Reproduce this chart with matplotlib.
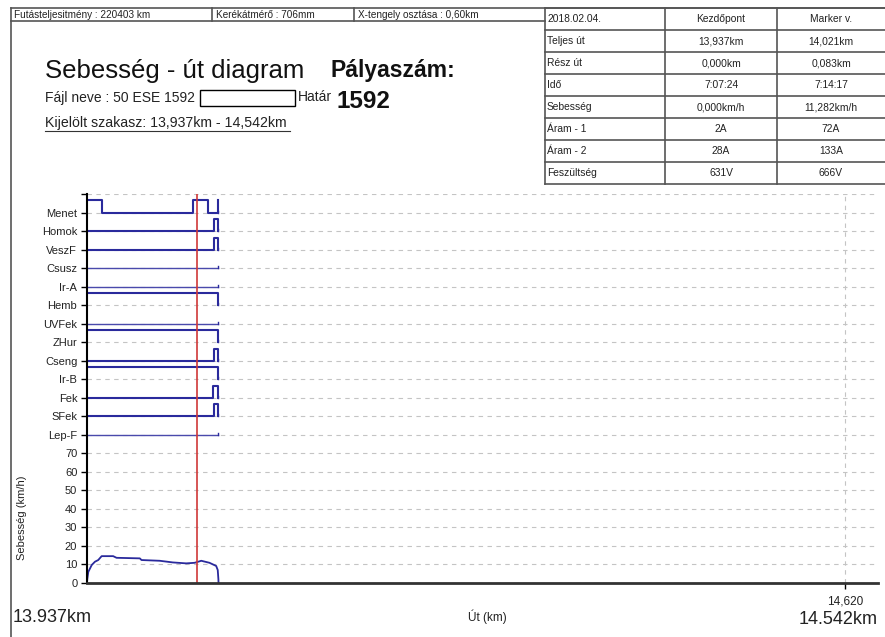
import matplotlib
matplotlib.use("Agg")
import matplotlib.pyplot as plt
from matplotlib.lines import Line2D
from matplotlib.patches import Rectangle

plt.rcParams['font.family'] = ['Liberation Sans', 'DejaVu Sans']

W, H = 885, 637

# header / table content
header_cells = ["Futásteljesitmény : 220403 km", "Kerékátmérő : 706mm", "X-tengely osztása : 0,60km"]
table_rows = ["2018.02.04.", "Teljes út", "Rész út", "Idő", "Sebesség", "Áram - 1", "Áram - 2", "Feszültség"]
table_start = ["Kezdőpont", "13,937km", "0,000km", "7:07:24", "0,000km/h", "2A", "28A", "631V"]
table_marker = ["Marker v.", "14,021km", "0,083km", "7:14:17", "11,282km/h", "72A", "133A", "666V"]

# axis range
x_start = 13.937
x_end = 14.542
marker_km = 14.021
grid_km = 14.517
grid_label = "14,620"

# speed curve
speed_km = [13.9370, 13.9372, 13.9380, 13.9406, 13.9431, 13.9456, 13.9482, 13.9570,
            13.9596, 13.9774, 13.9787, 13.9926, 14.0027, 14.0129, 14.0193, 14.0244,
            14.0307, 14.0358, 14.0370, 14.0375, 14.0376]
speed_kmh = [0.0, 2.0, 6.0, 9.7, 11.5, 12.4, 14.5, 14.5,
             13.6, 13.3, 12.4, 12.0, 11.1, 10.6, 10.9, 12.0,
             10.9, 9.2, 7.0, 2.0, 0.0]
speed_ticks = [0, 10, 20, 30, 40, 50, 60, 70]

# digital channels (base level on the shared y axis, step edges, states)
channels = ['Lep-F', 'SFek', 'Fek', 'Ir-B', 'Cseng', 'ZHur', 'UVFek', 'Hemb',
            'Ir-A', 'Csusz', 'VeszF', 'Homok', 'Menet']
channel_base = [80, 90, 100, 110, 120, 130, 140, 150, 160, 170, 180, 190, 200]
channel_edges = [
    [13.9370, 14.0375],
    [13.9370, 14.0345, 14.0374, 14.0375],
    [13.9370, 14.0332, 14.0374, 14.0375],
    [13.9370, 14.0374, 14.0375],
    [13.9370, 14.0345, 14.0374, 14.0375],
    [13.9370, 14.0374, 14.0375],
    [13.9370, 14.0375],
    [13.9370, 14.0374, 14.0375],
    [13.9370, 14.0375],
    [13.9370, 14.0375],
    [13.9370, 14.0345, 14.0370, 14.0375],
    [13.9370, 14.0345, 14.0370, 14.0375],
    [13.9370, 13.9484, 14.0177, 14.0299, 14.0372, 14.0375],
]
channel_states = [
    [0], [0, 1, 0], [0, 1, 0], [1, 0], [0, 1, 0], [1, 0], [0],
    [1, 0], [0], [0], [0, 1, 0], [0, 1, 0], [1, 0, 1, 0, 1],
]
thin_channels = ['Lep-F', 'UVFek', 'Ir-A', 'Csusz']
pulse_height = 6.5


def fx(px):
    return px / W


def fy(py):
    return 1 - py / H


fig = plt.figure(figsize=(W / 100, H / 100), dpi=100)


def hline(y, x0, x1, **kw):
    fig.add_artist(Line2D([fx(x0), fx(x1)], [fy(y), fy(y)], **kw))


def vline(x, y0, y1, **kw):
    fig.add_artist(Line2D([fx(x), fx(x)], [fy(y0), fy(y1)], **kw))


# page frame and header
frame = dict(color='#555555', lw=1.2)
hline(8, 11, 885, **frame)
hline(21, 11, 545, **frame)
vline(11, 8, 637, **frame)
for xc in [212, 354]:
    vline(xc, 8, 21, **frame)
for i, txt in enumerate(header_cells):
    fig.text(fx([14, 216, 358][i]), fy(15), txt, fontsize=7.2, va='center', ha='left', color='#222222')

# table on the right
row_h = 22.0
cols = [545, 665, 777, 885]
for r in range(len(table_rows) + 1):
    hline(8 + r * row_h, 545, 885, **frame)
for xc in cols[:3]:
    vline(xc, 8, 8 + row_h * len(table_rows), **frame)
for r in range(len(table_rows)):
    yc = 8 + r * row_h + row_h / 2
    fig.text(fx(547), fy(yc), table_rows[r], fontsize=7.4, va='center', color='#222222')
    fig.text(fx((cols[1] + cols[2]) / 2), fy(yc), table_start[r], fontsize=7.4, va='center', ha='center', color='#222222')
    fig.text(fx((cols[2] + cols[3]) / 2), fy(yc), table_marker[r], fontsize=7.4, va='center', ha='center', color='#222222')

# titles
fig.text(fx(45), fy(71), "Sebesség - út diagram", fontsize=18.5, va='center', color='#111111')
fig.text(fx(330), fy(70), "Pályaszám:", fontsize=16.5, fontweight='bold', va='center', color='#111111')
fig.text(fx(45), fy(98), "Fájl neve : 50 ESE 1592", fontsize=10, va='center', color='#222222')
fig.add_artist(Rectangle((fx(200), fy(106)), fx(95), 16 / H, fill=False, ec='black', lw=1))
fig.text(fx(298), fy(97), "Határ", fontsize=10, va='center', color='#222222')
fig.text(fx(336), fy(102), "1592", fontsize=17.5, fontweight='bold', va='center', color='#111111')
fig.text(fx(45), fy(123), "Kijelölt szakasz: 13,937km - 14,542km", fontsize=10.2, va='center', color='#222222')
hline(131, 45, 290, color='#333333', lw=0.8)

# chart area
ax = fig.add_axes([fx(87), fy(583), (878 - 87) / W, (583 - 194) / H])
ax.set_xlim(x_start, x_end)
ax.set_ylim(0, 210)

yticks = speed_ticks + channel_base + [210]
ylabels = [str(v) for v in speed_ticks] + channels + ['']
ax.set_yticks(yticks)
ax.set_yticklabels(ylabels, fontsize=8, color='#222222')
ax.set_xticks([grid_km])
ax.set_xticklabels([grid_label], fontsize=8.5, color='#222222')
ax.tick_params(axis='both', direction='out', length=4, width=1, color='black', pad=3)
ax.tick_params(axis='x', pad=5)

ax.grid(True, which='major', color='#c4c4c4', lw=0.8, linestyle=(0, (4, 4)))
ax.set_axisbelow(True)
for side in ['top', 'right']:
    ax.spines[side].set_visible(False)
ax.spines['left'].set_color('black')
ax.spines['left'].set_linewidth(1.5)
ax.spines['bottom'].set_color('#333333')
ax.spines['bottom'].set_linewidth(2)

for name, base, edges, states in zip(channels, channel_base, channel_edges, channel_states):
    ys = [base + pulse_height * s for s in states]
    ys = ys + [ys[-1]]
    thin = name in thin_channels
    ax.plot(edges, ys, drawstyle='steps-post',
            color='#4a4aac' if thin else '#2a2a9c', lw=1.0 if thin else 1.5)
    # drop back to base at the end of the record
    if ys[-1] != base:
        ax.plot([edges[-1], edges[-1]], [ys[-1], base], color='#2a2a9c', lw=1.3)
    ax.plot([edges[-1], edges[-1]], [base, base + pulse_height * 0.15], color='#2a2a9c', lw=1.0)

ax.plot(speed_km, speed_kmh, color='#2a2a9c', lw=1.3)
ax.axvline(marker_km, color='#d03838', lw=1.2)

fig.text(fx(22), fy(518), "Sebesség (km/h)", rotation=90, fontsize=8, va='center', ha='center', color='#222222')
fig.text(fx(13), fy(618), "13.937km", fontsize=13, va='center', ha='left', color='#222222')
fig.text(fx(487), fy(617), "Út (km)", fontsize=8.5, va='center', ha='center', color='#222222')
fig.text(fx(878), fy(619), "14.542km", fontsize=13, va='center', ha='right', color='#222222')

fig.savefig("out.png", dpi=100)
